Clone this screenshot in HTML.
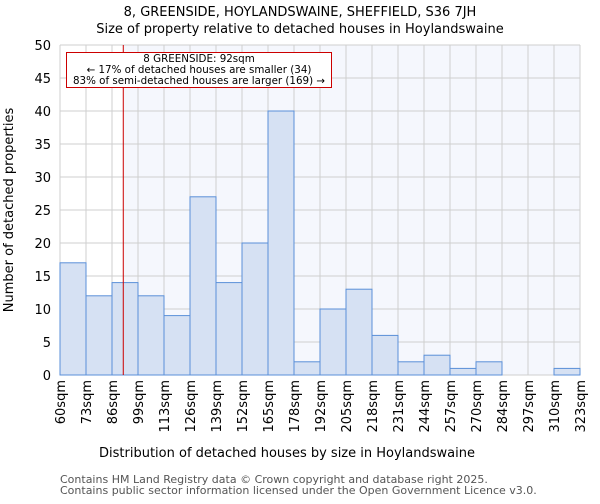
<!DOCTYPE html>
<html><head><meta charset="utf-8"><style>
body{margin:0;background:#fff;font-family:"DejaVu Sans","Liberation Sans",sans-serif;}
</style></head><body>
<svg width="600" height="500" font-family="DejaVu Sans, Liberation Sans, sans-serif">
<text x="300" y="16" text-anchor="middle" font-size="13">8, GREENSIDE, HOYLANDSWAINE, SHEFFIELD, S36 7JH</text>
<text x="300" y="33" text-anchor="middle" font-size="13">Size of property relative to detached houses in Hoylandswaine</text>
<g id="plot"></g>
<text x="287" y="457" text-anchor="middle" font-size="13">Distribution of detached houses by size in Hoylandswaine</text>
<text transform="translate(13,210) rotate(-90)" text-anchor="middle" font-size="13">Number of detached properties</text>
<text x="60" y="483" font-size="11" fill="#555">Contains HM Land Registry data © Crown copyright and database right 2025.</text>
<text x="60" y="494" font-size="11" fill="#555">Contains public sector information licensed under the Open Government Licence v3.0.</text>
</svg>
<script>
const categories=["60sqm","73sqm","86sqm","99sqm","113sqm","126sqm","139sqm","152sqm","165sqm","178sqm","192sqm","205sqm","218sqm","231sqm","244sqm","257sqm","270sqm","284sqm","297sqm","310sqm","323sqm"];
const counts=[17,12,14,12,9,27,14,20,40,2,10,13,6,2,3,1,2,0,0,1];
const yTicks=[0,5,10,15,20,25,30,35,40,45,50];
const markerValue=92;
const binStart=60, binWidth=13.15;
const L=60,R=580,T=45,B=375,yMax=50;
const bw=(R-L)/counts.length;
const X=i=>L+i*bw;
const Y=v=>B-(v/yMax)*(B-T);
const XV=v=>L+(v-binStart)/binWidth*bw;
const NS="http://www.w3.org/2000/svg";
const g=document.getElementById('plot');
function mk(t,a){const e=document.createElementNS(NS,t);for(const k in a)e.setAttribute(k,a[k]);g.appendChild(e);return e;}
const mx=XV(markerValue);
let e=mk('rect',{x:L,y:T,width:mx-L,height:B-T,fill:'#ffffff'});


e=mk('rect',{x:mx,y:T,width:R-mx,height:B-T,fill:'#f5f7fd'});


yTicks.forEach(v=>{
 const l=mk('line',{x1:L,x2:R,y1:Y(v),y2:Y(v),stroke:'#cfcfcf','stroke-width':1});
 
 
 const t=mk('text',{x:L-9,y:Y(v)+5,'text-anchor':'end','font-size':13});
 t.textContent=v;
 
 
});
categories.forEach((c,i)=>{
 const x=X(i);
 const l=mk('line',{x1:x,x2:x,y1:T,y2:B,stroke:'#cfcfcf','stroke-width':1});
 
 
 const t=mk('text',{transform:`translate(${x+5},380) rotate(-90)`,'text-anchor':'end','font-size':13});
 t.textContent=c;
 
 
});
counts.forEach((v,i)=>{
 if(v<=0)return;
 const r=mk('rect',{x:X(i),y:Y(v),width:bw,height:B-Y(v),fill:'#d6e1f3',stroke:'#5a8fd8','stroke-width':1});
 
 
});
e=mk('line',{x1:mx,x2:mx,y1:T,y2:B,stroke:'#cc0000','stroke-width':1});


e=mk('rect',{x:66.5,y:52.5,width:265,height:35,fill:'#fff',stroke:'#cc0000','stroke-width':1});


[["8 GREENSIDE: 92sqm",62],["← 17% of detached houses are smaller (34)",73],["83% of semi-detached houses are larger (169) →",84]].forEach(([s,y])=>{
 const t=mk('text',{x:199,y:y,'text-anchor':'middle','font-size':10.3});
 t.textContent=s;
 
 
});
</script>
</body></html>
